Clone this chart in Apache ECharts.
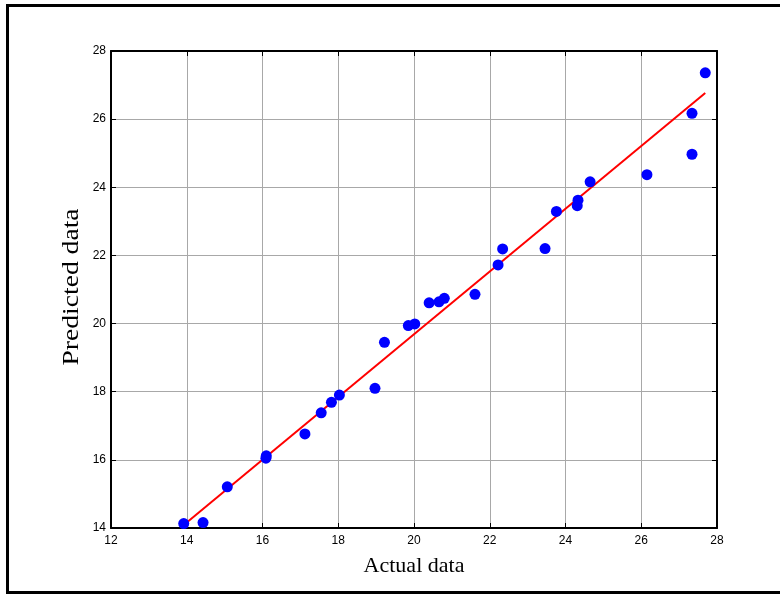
<!DOCTYPE html>
<html>
<head>
<meta charset="utf-8">
<script src="https://cdn.jsdelivr.net/npm/echarts@6/dist/echarts.min.js"></script>
<style>
    html, body {margin: 0; padding: 0; background: #fff;}
    #chart {width: 780px; height: 594px;}
</style>
</head>
<body>
<div id="chart"></div>
<script>
// measured points (actual, predicted)
const actual = [13.92, 14.43, 15.07, 16.09, 16.10, 17.12, 17.55, 17.82, 18.03, 18.97,
    19.22, 19.85, 20.02, 20.40, 20.66, 20.80, 21.61, 22.22, 22.34, 23.46,
    23.76, 24.31, 24.33, 24.65, 26.15, 27.34, 27.34, 27.69];
const predicted = [14.13, 14.16, 15.21, 16.05, 16.12, 16.76, 17.38, 17.69, 17.90, 18.10,
    19.45, 19.94, 19.99, 20.61, 20.64, 20.74, 20.86, 21.72, 22.19, 22.20,
    23.29, 23.46, 23.62, 24.16, 24.37, 24.97, 26.17, 27.36];

// fitted line end points
const fitX = [13.92, 27.69];
const fitY = [14.09, 26.77];

const chart = echarts.init(document.getElementById('chart'));

function box_axis(pos, showLabel, name) {
    return {
        type: 'value',
        position: pos,
        min: pos === 'bottom' || pos === 'top' ? 12 : 14,
        max: 28,
        interval: 2,
        name: name || '',
        nameLocation: 'middle',
        nameGap: 27,
        nameTextStyle: {fontFamily: 'Liberation Serif', fontSize: 22, color: '#000'},
        axisLine: {show: true, onZero: false, lineStyle: {color: '#000', width: 2}},
        axisTick: {show: true, inside: true, length: 5, lineStyle: {color: '#000', width: 1}},
        axisLabel: {
            show: showLabel,
            margin: pos === 'bottom' ? 7 : 5,
            fontFamily: 'Liberation Sans',
            fontSize: 12,
            color: '#000'
        },
        splitLine: {show: showLabel, lineStyle: {color: '#a8a8a8', width: 1}}
    };
}

const option = {
    backgroundColor: '#fff',
    animation: false,
    grid: {left: 111, top: 51, right: 63, bottom: 66, containLabel: false},
    xAxis: [box_axis('bottom', true, 'Actual data'), box_axis('top', false)],
    yAxis: [box_axis('left', true), box_axis('right', false)],
    graphic: [
        {
            type: 'rect',
            shape: {x: 7.5, y: 5.5, width: 800, height: 587},
            style: {fill: 'none', stroke: '#000', lineWidth: 3},
            silent: true
        },
        {
            // y title, stretched along its length like the original figure
            type: 'text',
            x: 72,
            y: 287,
            rotation: Math.PI / 2,
            scaleX: 1.2,
            style: {
                text: 'Predicted data',
                fontFamily: 'Liberation Serif',
                fontSize: 23,
                fill: '#000',
                align: 'center',
                verticalAlign: 'middle'
            },
            silent: true
        }
    ],
    series: [
        {
            type: 'line',
            data: fitX.map((x, i) => [x, fitY[i]]),
            symbol: 'none',
            lineStyle: {color: '#ff0000', width: 2},
            z: 2
        },
        {
            type: 'scatter',
            data: actual.map((x, i) => [x, predicted[i]]),
            symbol: 'circle',
            symbolSize: 11,
            itemStyle: {color: '#0000ff', opacity: 1},
            z: 3
        }
    ]
};

chart.setOption(option);
</script>
</body>
</html>
